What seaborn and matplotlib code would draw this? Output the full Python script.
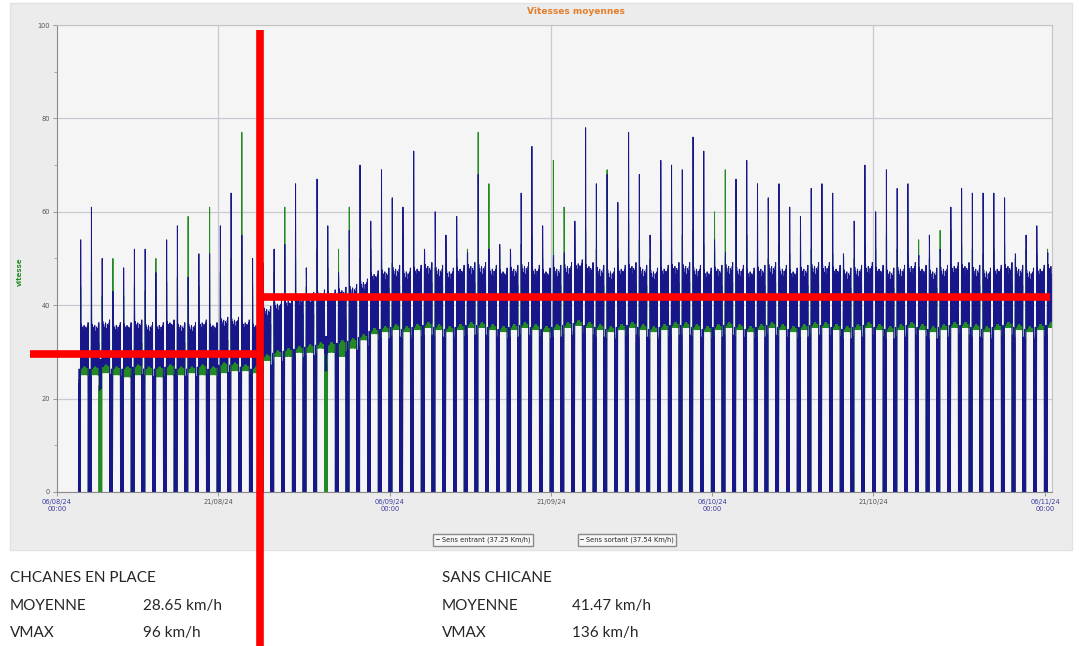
import matplotlib
matplotlib.use("Agg")
import pandas as pd
import matplotlib.pyplot as plt
import matplotlib.ticker as mticker
from matplotlib.lines import Line2D
from matplotlib.patches import Rectangle
import seaborn as sns

# ─────────────────────────────────────────────
# DONNÉES (une valeur par jour à partir du 08/08/24)
# ─────────────────────────────────────────────
DEBUT = "2024-08-08"

# pic matinal (km/h) de chaque journée
pic_sortant = [54, 61, 50, 43, 48, 52, 52, 47, 54, 57, 46, 51, 51, 57, 64, 55, 50,
               49, 52, 53, 66, 48, 67, 57, 47, 56, 70, 58, 69, 63, 61, 73, 52, 60, 55,
               59, 51, 68, 52, 53, 52, 64, 74, 57, 50, 48, 58, 78, 66, 68, 62, 77, 68,
               55, 71, 70, 69, 76, 73, 54, 50, 67, 71, 66, 63, 66, 61, 59, 65, 66, 64,
               51, 58, 70, 60, 69, 65, 66, 50, 55, 52, 61, 65, 64, 64, 64, 63, 51, 55, 57, 48]
pic_entrant = [44, 47, 42, 50, 42, 44, 43, 50, 45, 46, 59, 44, 61, 47, 50, 77, 44,
               46, 47, 61, 50, 44, 52, 48, 52, 61, 50, 52, 51, 49, 55, 47, 50, 48, 49,
               50, 52, 77, 66, 53, 48, 53, 55, 50, 71, 61, 50, 56, 52, 69, 52, 58, 54,
               50, 54, 52, 55, 56, 53, 60, 69, 65, 55, 52, 50, 53, 51, 55, 52, 54, 51,
               48, 50, 53, 52, 55, 52, 51, 54, 50, 56, 56, 53, 52, 51, 52, 53, 50, 52, 51, 52]

# niveau moyen de la journée (km/h)
niveau_sortant = [31, 31, 31.5, 31, 31, 31.5, 31, 31, 31.5, 31, 31, 31.5, 31, 32, 32, 31.5, 31,
                  34, 35, 35.5, 36, 36.5, 37, 37, 37.5, 38, 39,
                  40.5, 41, 41.5, 41, 41.5, 42, 41.5, 41,
                  41.5, 42, 42, 41.5, 41, 41.5, 42, 41.5,
                  41, 41.5, 42, 42.5, 42, 41.5, 41, 41.5,
                  42, 41.5, 41, 41.5, 42, 42, 41.5, 41,
                  41.5, 42, 41.5, 41, 41.5, 42, 41.5, 41,
                  41.5, 42, 42, 41.5, 41, 41.5, 42, 41.5,
                  41, 41.5, 42, 41.5, 41, 41.5, 42, 42,
                  41.5, 41, 41.5, 42, 41.5, 41, 41.5, 42]
niveau_entrant = [28.5, 28.5, 29, 28.5, 28, 28.5, 28.5, 28, 28.5, 28.5, 29, 28.5, 28.5, 29, 29.5, 29.5, 29,
                  32, 33, 33, 34, 34, 35, 34, 33, 35, 37,
                  38.5, 39, 39.5, 39, 39.5, 40, 39.5, 39,
                  39.5, 40, 40, 39.5, 39, 39.5, 40, 39.5,
                  39, 39.5, 40, 40.5, 40, 39.5, 39, 39.5,
                  40, 39.5, 39, 39.5, 40, 40, 39.5, 39,
                  39.5, 40, 39.5, 39, 39.5, 40, 39.5, 39,
                  39.5, 40, 40, 39.5, 39, 39.5, 40, 39.5,
                  39, 39.5, 40, 39.5, 39, 39.5, 40, 40,
                  39.5, 39, 39.5, 40, 39.5, 39, 39.5, 40]

# écarts (% du niveau) par demi-heure : nuit du matin 00h00-04h30, journée 05h30-21h30, soirée 22h00-23h30
# None = aucune circulation (vitesse nulle)
nuit_matin = [None, -25, None, -15, None, -30, None, -20, None, -10]
jour_sortant = [22, -14, 16, -15, 10, -13, 14, -14, 8, -13, 12, -12, 7, -13, 15, -12, 9,
                -13, 11, -12, 6, -13, 14, -13, 9, -14, 13, -13, 8, -14, 15, -14, 17]
jour_entrant = [12, -12, 9, -11, 7, -12, 8, -10, 6, -12, 8, -11, 5, -12, 9, -10, 6,
                -11, 8, -12, 5, -11, 9, -12, 7, -12, 8, -11, 9, -12, 10, -12, 12]
nuit_soir = [None, -20, None, -30]

# nuits sans retour à zéro pour le sens sortant
nuits_sans_zero = [2, 23]

SENS = ["Sens entrant", "Sens sortant"]
COULEURS = {"Sens entrant": "#238a23", "Sens sortant": "#17178a"}
LEGENDES = ["Sens entrant (37.25 Km/h)", "Sens sortant (37.54 Km/h)"]

moyennes_rouges = [29.6, 41.8]
date_pose = "2024-08-24 21:00"

bloc_avec = ["CHCANES EN PLACE", "MOYENNE", "28.65 km/h", "VMAX", "96 km/h"]
bloc_sans = ["SANS CHICANE", "MOYENNE", "41.47 km/h", "VMAX", "136 km/h"]

tick_dates = ["2024-08-06", "2024-08-21", "2024-09-06", "2024-09-21",
              "2024-10-06", "2024-10-21", "2024-11-06"]
tick_labels = ["06/08/24\n00:00", "21/08/24", "06/09/24\n00:00", "21/09/24",
               "06/10/24\n00:00", "21/10/24", "06/11/24\n00:00"]


def serie(pics, niveaux, jour, sans_zero=()):
    valeurs = []
    for j, (pic, niv) in enumerate(zip(pics, niveaux)):
        def v(e, garder):
            if e is None:
                return niv * 0.9 if garder else 0.0
            return niv * (1 + e / 100)
        valeurs += [v(e, j in sans_zero) for e in nuit_matin]
        valeurs += [pic] + [v(e, False) for e in jour]
        valeurs += [v(e, (j + 1) in sans_zero) for e in nuit_soir]
    return valeurs


pas = pd.date_range(DEBUT, periods=len(pic_sortant) * 48, freq="30min")
df = pd.concat([
    pd.DataFrame({"date": pas, "sens": SENS[0],
                  "vitesse": serie(pic_entrant, niveau_entrant, jour_entrant)}),
    pd.DataFrame({"date": pas, "sens": SENS[1],
                  "vitesse": serie(pic_sortant, niveau_sortant, jour_sortant, nuits_sans_zero)}),
])

# ─────────────────────────────────────────────
# FIGURE
# ─────────────────────────────────────────────
sns.set_style("white")
fig = plt.figure(figsize=(10.79, 6.46), dpi=100)
fig.patch.set_facecolor("white")
fig.patches.append(Rectangle((0.0093, 0.1486), 0.984, 0.8467, transform=fig.transFigure,
                             facecolor="#ececec", edgecolor="#e2e2e2", zorder=-1))

ax = fig.add_axes([0.0528, 0.2384, 0.9222, 0.7229])
ax.set_facecolor("#f5f5f5")

sns.lineplot(data=df, x="date", y="vitesse", hue="sens", hue_order=SENS,
             palette=COULEURS, estimator=None, sort=False, lw=0.7,
             legend=False, ax=ax)

ax.set_xlim(pd.Timestamp("2024-08-06"), pd.Timestamp("2024-11-06 15:00"))
ax.set_ylim(0, 100)
ax.set_xlabel("")
ax.set_ylabel("")

ax.yaxis.set_major_locator(mticker.MultipleLocator(20))
ax.yaxis.set_minor_locator(mticker.MultipleLocator(10))
ax.grid(axis="y", which="major", color="#c9c9d3", lw=0.9)
for d in tick_dates[1::2]:
    ax.axvline(pd.Timestamp(d), color="#c9c9d3", lw=0.9, zorder=0)

ax.set_xticks([pd.Timestamp(d) for d in tick_dates])
ax.set_xticklabels(tick_labels, fontsize=4.8)
for i, lab in enumerate(ax.get_xticklabels()):
    lab.set_color("#3a3aa0" if i % 2 == 0 else "#555555")
ax.tick_params(axis="x", length=3, width=0.6, color="#888888", pad=2)
ax.tick_params(axis="y", which="major", length=3, width=0.6, color="#888888",
               labelsize=4.8, labelcolor="#555555", pad=2)
ax.tick_params(axis="y", which="minor", length=2, width=0.5, color="#888888")
ax.yaxis.set_tick_params(left=True, which="both")
ax.xaxis.set_tick_params(bottom=True)

for side in ["left", "bottom"]:
    ax.spines[side].set_color("#8a8a8a")
    ax.spines[side].set_linewidth(0.8)
for side in ["top", "right"]:
    ax.spines[side].set_color("#c4c4c4")
    ax.spines[side].set_linewidth(0.8)

fig.text(576 / 1079, 1 - 12 / 646, "Vitesses moyennes", color="#e57e2a",
         fontsize=6.5, fontweight="bold", ha="center", va="center")
fig.text(20 / 1079, 1 - 272 / 646, "vitesse", color="#238a23", fontsize=5,
         fontweight="bold", rotation=90, ha="center", va="center")

# légendes séparées
for lab, xc in zip(LEGENDES, [0.4476, 0.581]):
    fig.legend(handles=[Line2D([0], [0], color="#444444", lw=0.7)], labels=[lab],
               loc="center", bbox_to_anchor=(xc, 0.164), fontsize=4.8,
               frameon=True, fancybox=False, edgecolor="#8a8a8a", facecolor="#f7f7f7",
               handlelength=0.5, handletextpad=0.4, borderpad=0.35, framealpha=1)

# annotations rouges
pose = pd.Timestamp(date_pose)
ax.plot([pd.Timestamp("2024-08-03 12:00"), pose], [moyennes_rouges[0]] * 2,
        color="#ff0000", lw=5.5, solid_capstyle="butt", clip_on=False, zorder=5)
ax.plot([pose, pd.Timestamp("2024-11-06 11:00")], [moyennes_rouges[1]] * 2,
        color="#ff0000", lw=5.5, solid_capstyle="butt", clip_on=False, zorder=5)
ax.plot([pose, pose], [98.9, -35], color="#ff0000", lw=5.5,
        solid_capstyle="butt", clip_on=False, zorder=5)

# texte du bas
police = ["Lato", "DejaVu Sans"]
for bloc, x0, x1 in [(bloc_avec, 10, 143), (bloc_sans, 442, 572)]:
    fig.text(x0 / 1079, 1 - 578 / 646, bloc[0], fontsize=11, family=police, va="center")
    fig.text(x0 / 1079, 1 - 606 / 646, bloc[1], fontsize=11, family=police, va="center")
    fig.text(x1 / 1079, 1 - 606 / 646, bloc[2], fontsize=11, family=police, va="center")
    fig.text(x0 / 1079, 1 - 633 / 646, bloc[3], fontsize=11, family=police, va="center")
    fig.text(x1 / 1079, 1 - 633 / 646, bloc[4], fontsize=11, family=police, va="center")

fig.savefig("out.png", dpi=100)
plt.close(fig)
